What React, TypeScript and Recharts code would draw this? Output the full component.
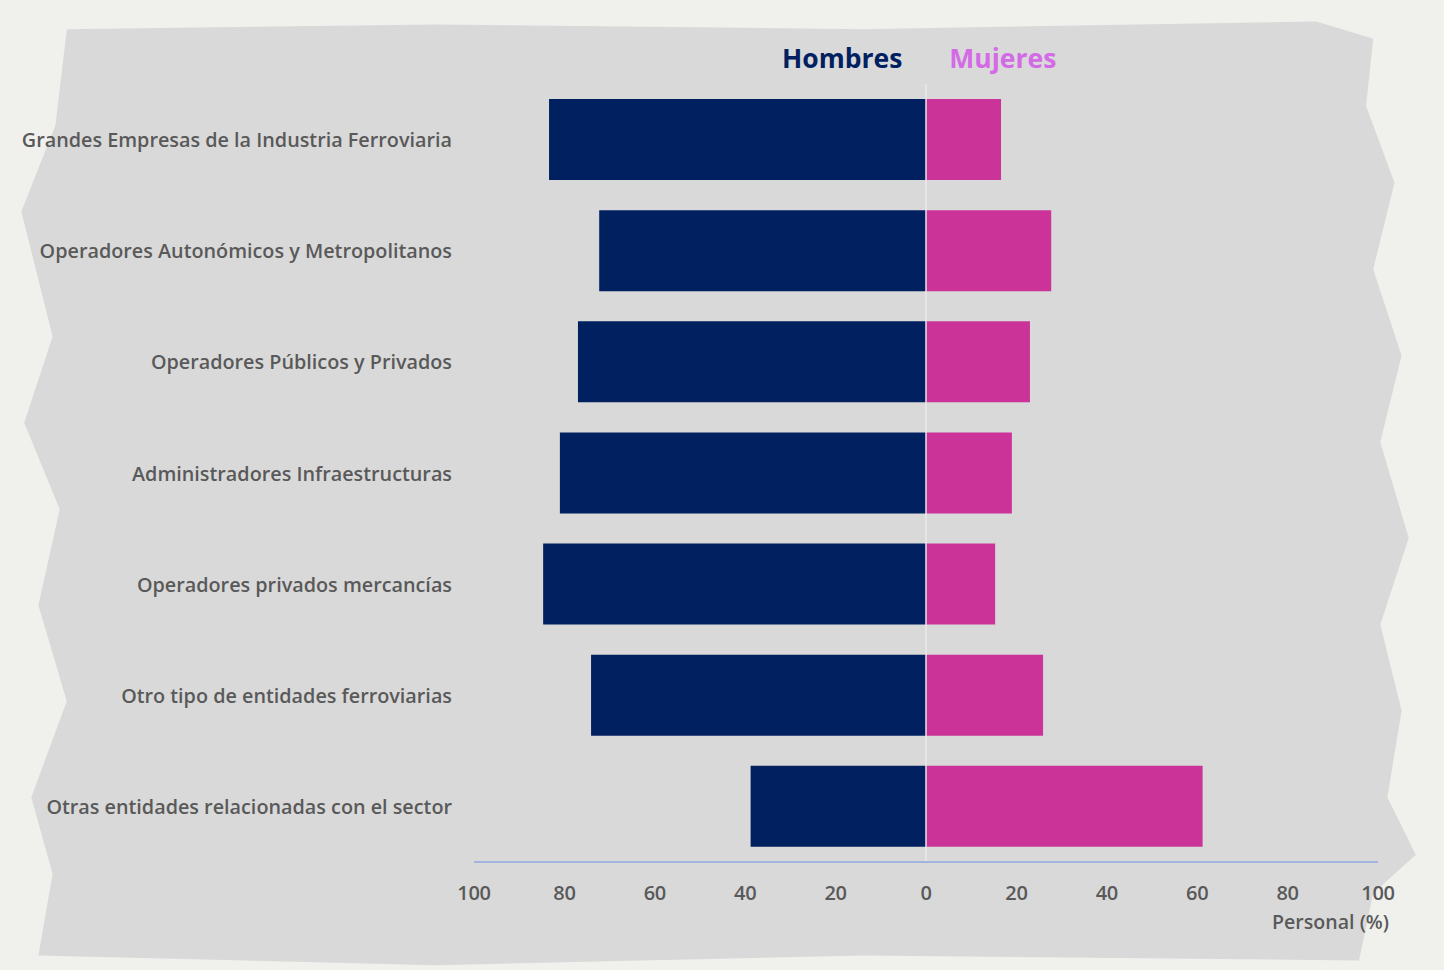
import { Bar, BarChart, ReferenceLine, XAxis, YAxis } from "recharts";

const categories = [
  "Grandes Empresas de la Industria Ferroviaria",
  "Operadores Autonómicos y Metropolitanos",
  "Operadores Públicos y Privados",
  "Administradores Infraestructuras",
  "Operadores privados mercancías",
  "Otro tipo de entidades ferroviarias",
  "Otras entidades relacionadas con el sector",
];
const hombres = [83.4, 72.3, 77.0, 81.0, 84.7, 74.1, 38.8];
const mujeres = [16.6, 27.7, 23.0, 19.0, 15.3, 25.9, 61.2];
const xTicks = [-100, -80, -60, -40, -20, 0, 20, 40, 60, 80, 100];

const data = categories.map((name, i) => ({
  name,
  hombres: -hombres[i],
  mujeres: mujeres[i],
}));

const FONT = "'Open Sans', 'Noto Sans', sans-serif";

// rough brush-stroke outline for the grey backdrop
const BRUSH =
  "polygon(4% 2%, 30% 1.5%, 60% 2%, 92% 1.2%, 96% 3%, 95.5% 10%, 97.5% 18%, 96% 27%, 98% 36%, 96.5% 45%, 98.5% 55%, 96.5% 64%, 98% 73%, 97% 82%, 99% 88%, 96% 92%, 95% 99%, 60% 98.5%, 30% 99.5%, 2% 98.5%, 3% 90%, 1.5% 82%, 4% 72%, 2% 62%, 3.5% 52%, 1% 43%, 3% 34%, 0.8% 21%, 3.2% 12%)";

function CategoryTick(props: any) {
  const { x, y, payload } = props;
  return (
    <text
      x={x}
      y={y}
      textAnchor="end"
      dominantBaseline="central"
      fontFamily={FONT}
      fontWeight={600}
      fontSize={19.8}
      fill="#595959"
    >
      {payload.value}
    </text>
  );
}

function ValueTick(props: any) {
  const { x, y, payload } = props;
  return (
    <text
      x={x}
      y={y + 22}
      textAnchor="middle"
      dominantBaseline="central"
      fontFamily={FONT}
      fontWeight={600}
      fontSize={20}
      letterSpacing={-0.3}
      fill="#595959"
    >
      {Math.abs(payload.value)}
    </text>
  );
}

export default function App() {
  return (
    <div
      style={{
        position: "absolute",
        left: 0,
        top: 0,
        width: 1444,
        height: 970,
        background: "#f0f0ed",
        overflow: "hidden",
      }}
    >
      <div
        style={{
          position: "absolute",
          left: 10,
          top: 10,
          width: 1420,
          height: 960,
          background: "#d9d9d9",
          clipPath: BRUSH,
        }}
      />
      <div style={{ position: "absolute", left: 0, top: 0 }}>
        <BarChart
          width={1444}
          height={970}
          data={data}
          layout="vertical"
          stackOffset="sign"
          barCategoryGap="13.5%"
          margin={{ top: 84, right: 66, bottom: 78, left: 0 }}
        >
          <XAxis
            type="number"
            domain={[-100, 100]}
            ticks={xTicks}
            tick={<ValueTick />}
            tickLine={false}
            axisLine={{ stroke: "#8fa6dd", strokeWidth: 1.5 }}
            height={30}
          />
          <YAxis
            type="category"
            dataKey="name"
            width={474}
            tick={<CategoryTick />}
            tickLine={false}
            axisLine={false}
            tickSize={0}
            tickMargin={22}
          />
          <Bar dataKey="hombres" stackId="a" fill="#002060" isAnimationActive={false} />
          <Bar dataKey="mujeres" stackId="a" fill="#cc3399" isAnimationActive={false} />
          <ReferenceLine x={0} stroke="#ece4ee" strokeWidth={1.5} />
        </BarChart>
      </div>
      <div
        style={{
          position: "absolute",
          left: 782,
          top: 40,
          display: "flex",
          gap: 47,
          fontFamily: FONT,
          fontWeight: 700,
          fontSize: 26.5,
          lineHeight: "36px",
          whiteSpace: "nowrap",
        }}
      >
        <span style={{ color: "#002060" }}>Hombres</span>
        <span style={{ color: "#d46ae6" }}>Mujeres</span>
      </div>
      <div
        style={{
          position: "absolute",
          left: 1272,
          top: 908,
          fontFamily: FONT,
          fontWeight: 600,
          fontSize: 19.6,
          color: "#595959",
          whiteSpace: "nowrap",
        }}
      >
        Personal (%)
      </div>
    </div>
  );
}
